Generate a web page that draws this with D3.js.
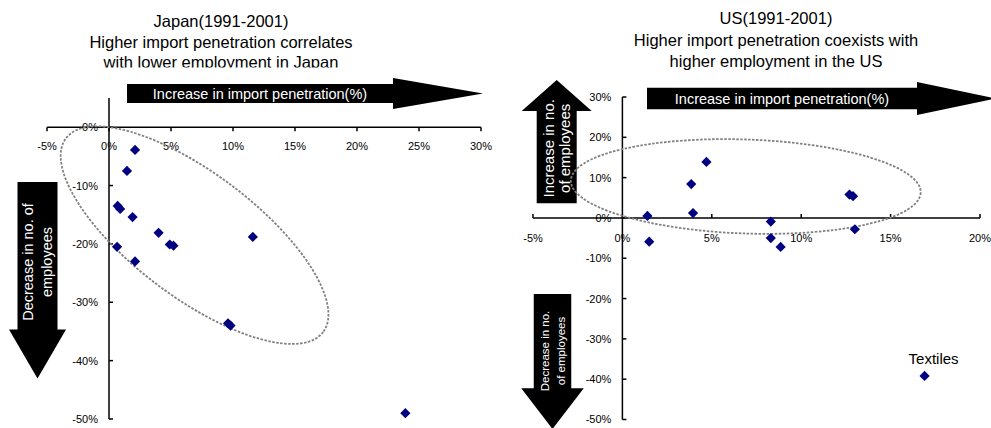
<!DOCTYPE html>
<html>
<head>
<meta charset="utf-8">
<script src="https://cdn.jsdelivr.net/npm/d3@7"></script>
<style>
  body { margin: 0; background: #fff; }
  svg { display: block; font-family: "Liberation Sans", Arial, sans-serif; }
</style>
</head>
<body>
<svg id="chart" width="991" height="428"></svg>
<script>
// Japan (1991-2001): change in import penetration vs change in employees (%)
var japanImport     = [2.1, 1.45, 0.7, 0.9, 1.9, 4.0, 4.9, 5.2, 11.6, 0.65, 2.1, 9.6, 9.8, 23.9];
var japanEmployment = [-3.9, -7.5, -13.5, -14.0, -15.4, -18.1, -20.1, -20.3, -18.8, -20.5, -23.0, -33.6, -34.0, -49.0];

// US (1991-2001)
var usImport     = [1.4, 1.5, 3.85, 3.95, 4.7, 8.3, 8.3, 8.85, 12.7, 12.9, 13.0, 16.9];
var usEmployment = [0.5, -5.9, 8.4, 1.2, 13.9, -0.9, -5.0, -7.2, 5.8, 5.4, -2.8, -39.2];
var usLabels     = ["", "", "", "", "", "", "", "", "", "", "", "Textiles"];

var japanXTicks = [-5, 0, 5, 10, 15, 20, 25, 30];
var japanYTicks = [0, -10, -20, -30, -40, -50];
var usXTicks = [-5, 0, 5, 10, 15, 20];
var usYTicks = [30, 20, 10, 0, -10, -20, -30, -40, -50];

var japanTitle = ["Japan(1991-2001)", "Higher import penetration correlates", "with lower employment in Japan"];
var usTitle = ["US(1991-2001)", "Higher import penetration coexists with", "higher employment in the US"];

var svg = d3.select("#chart");
var pct = function(d) { return d + "%"; };
var markColor = "#000080";

// scales
var jx = d3.scaleLinear().domain([-5, 30]).range([47, 481]);
var jy = d3.scaleLinear().domain([-50, 5]).range([419, 98]);
var ux = d3.scaleLinear().domain([-5, 20]).range([533, 980]);
var uy = d3.scaleLinear().domain([-50, 30]).range([419.5, 97]);

// titles
function drawTitle(lines, cx, baselines, clipY, id) {
  var g = svg.append("g");
  if (clipY) {
    svg.append("clipPath").attr("id", id)
      .append("rect").attr("x", 0).attr("y", 0).attr("width", 991).attr("height", clipY);
    g.attr("clip-path", "url(#" + id + ")");
  }
  g.selectAll("text").data(lines).enter().append("text")
    .attr("x", cx)
    .attr("y", (d, i) => baselines[i])
    .attr("text-anchor", "middle")
    .attr("font-size", "16.5px")
    .attr("fill", "#000")
    .text(d => d);
}
drawTitle(japanTitle, 221, [27, 47.5, 67.5], 67.5, "jclip");
drawTitle(usTitle, 776, [23.5, 45.5, 67], null, null);

// black block arrows
function hArrow(x0, x1, tip, yc, bodyH, headH, label) {
  var g = svg.append("g");
  g.append("path")
    .attr("d", "M" + x0 + "," + (yc - bodyH / 2) + "H" + x1 + "V" + (yc - headH / 2) +
      "L" + tip + "," + yc + "L" + x1 + "," + (yc + headH / 2) + "V" + (yc + bodyH / 2) +
      "H" + x0 + "Z")
    .attr("fill", "#000");
  g.append("text")
    .attr("x", (x0 + x1) / 2).attr("y", yc)
    .attr("dy", "0.36em")
    .attr("text-anchor", "middle")
    .attr("font-size", "14.5px")
    .attr("fill", "#fff")
    .text(label);
}

function vArrow(xc, y0, y1, tip, bodyW, headW, lines, fontSize, lineGap, textY) {
  var g = svg.append("g");
  g.append("path")
    .attr("d", "M" + (xc - bodyW / 2) + "," + y0 + "V" + y1 + "H" + (xc - headW / 2) +
      "L" + xc + "," + tip + "L" + (xc + headW / 2) + "," + y1 + "H" + (xc + bodyW / 2) +
      "V" + y0 + "Z")
    .attr("fill", "#000");
  var t = g.append("text")
    .attr("transform", "translate(" + xc + "," + textY + ") rotate(-90)")
    .attr("text-anchor", "middle")
    .attr("font-size", fontSize + "px")
    .attr("fill", "#fff");
  lines.forEach(function(s, i) {
    t.append("tspan")
      .attr("x", 0)
      .attr("y", (i - (lines.length - 1) / 2) * lineGap)
      .attr("dy", "0.36em")
      .text(s);
  });
}

hArrow(127, 393, 483, 93.5, 19, 31, "Increase in import penetration(%)");
vArrow(37.5, 182, 329.5, 378.5, 40, 57, ["Decrease in no. of", "employees"], 14.5, 19, 262);

hArrow(647, 917, 996, 98.5, 21.5, 33, "Increase in import penetration(%)");
vArrow(556.7, 203.3, 111, 80, 40, 70, ["Increase in no.", "of employees"], 15, 16.7, 148.3);
vArrow(552.5, 294, 388.3, 429, 37.5, 62.5, ["Decrease in no.", "of employees"], 11.5, 16, 351);

// axes
function drawAxes(x, y, xTicks, yTicks, xTickDir, xLabelY) {
  var g = svg.append("g").attr("stroke", "#000").attr("stroke-width", 1.5);
  var x0 = x(0), y0 = y(0);
  g.append("line")
    .attr("x1", x.range()[0]).attr("x2", x.range()[1])
    .attr("y1", y0).attr("y2", y0);
  g.append("line")
    .attr("x1", x0).attr("x2", x0)
    .attr("y1", y.range()[0]).attr("y2", y.range()[1]);
  g.selectAll(".xt").data(xTicks).enter().append("line")
    .attr("x1", d => x(d)).attr("x2", d => x(d))
    .attr("y1", y0).attr("y2", y0 + 4 * xTickDir);
  g.selectAll(".yt").data(yTicks).enter().append("line")
    .attr("x1", x0).attr("x2", x0 + 4)
    .attr("y1", d => y(d)).attr("y2", d => y(d));

  var lg = svg.append("g")
    .attr("font-size", "11px")
    .attr("fill", "#000");
  lg.selectAll(".xl").data(xTicks).enter().append("text")
    .attr("x", d => x(d)).attr("y", xLabelY)
    .attr("dy", "0.36em")
    .attr("text-anchor", "middle")
    .text(pct);
  lg.selectAll(".yl").data(yTicks).enter().append("text")
    .attr("x", x0 - 11).attr("y", d => y(d))
    .attr("dy", "0.36em")
    .attr("text-anchor", "end")
    .text(pct);
}

drawAxes(jx, jy, japanXTicks, japanYTicks, 1, 146);
drawAxes(ux, uy, usXTicks, usYTicks, -1, 238);

// dashed grouping ellipses
function ellipse(cx, cy, rx, ry, angle) {
  svg.append("ellipse")
    .attr("cx", 0).attr("cy", 0)
    .attr("rx", rx).attr("ry", ry)
    .attr("transform", "translate(" + cx + "," + cy + ") rotate(" + angle + ")")
    .attr("fill", "none")
    .attr("stroke", "#808080")
    .attr("stroke-width", 1.8)
    .attr("stroke-dasharray", "2.5,1.5");
}
ellipse(jx(6.9), jy(-18.5), 161, 62, 37);
ellipse(ux(6.9), uy(7.8), 175, 47, 2);

// markers
var diamond = d3.symbol().type(d3.symbolSquare).size(52);
function drawPoints(x, y, xs, ys) {
  svg.append("g").selectAll("path")
    .data(xs.map((v, i) => [v, ys[i]]))
    .enter().append("path")
    .attr("d", diamond)
    .attr("transform", d => "translate(" + x(d[0]) + "," + y(d[1]) + ") rotate(45)")
    .attr("fill", markColor);
}
drawPoints(jx, jy, japanImport, japanEmployment);
drawPoints(ux, uy, usImport, usEmployment);

// point label
svg.append("g").selectAll("text")
  .data(usImport.map((v, i) => ({x: v, y: usEmployment[i], label: usLabels[i]})).filter(d => d.label))
  .enter().append("text")
  .attr("x", d => ux(d.x) + 9)
  .attr("y", d => uy(d.y) - 17)
  .attr("dy", "0.36em")
  .attr("text-anchor", "middle")
  .attr("font-size", "15px")
  .attr("fill", "#000")
  .text(d => d.label);
</script>
</body>
</html>
